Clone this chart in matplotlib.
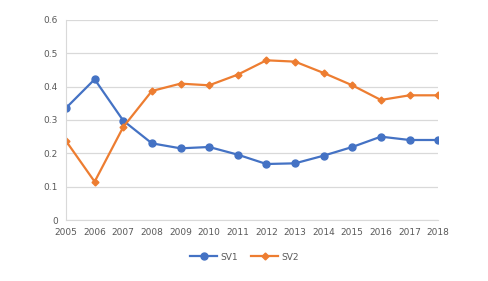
import numpy as np
import matplotlib.pyplot as plt

plt.rcParams['font.family'] = ['DejaVu Sans']

# 数据
years = list(range(2005, 2019))
sv1 = [0.336, 0.422, 0.298, 0.230, 0.215, 0.219, 0.196, 0.168, 0.170, 0.193, 0.219, 0.250, 0.240, 0.240]
sv2 = [0.237, 0.115, 0.279, 0.387, 0.409, 0.404, 0.436, 0.479, 0.475, 0.441, 0.404, 0.360, 0.374, 0.374]

fig = plt.figure(figsize=(4.89, 2.81), dpi=100)
ax = fig.add_axes([0.135, 0.217, 0.761, 0.712])

ax.plot(years, sv1, color='#4472C4', marker='o', markersize=5, linewidth=1.6, label='SV1')
ax.plot(years, sv2, color='#ED7D31', marker='D', markersize=3.5, linewidth=1.6, label='SV2')

ax.set_xlim(2005, 2018)
ax.set_ylim(0, 0.6)
ax.set_xticks(years)
ax.set_yticks([0, 0.1, 0.2, 0.3, 0.4, 0.5, 0.6])
ax.set_yticklabels(['0', '0.1', '0.2', '0.3', '0.4', '0.5', '0.6'])
ax.tick_params(axis='both', length=0, labelsize=6.5, colors='#595959', pad=6)
ax.grid(True, axis='y', color='#D9D9D9', linewidth=0.9)
ax.set_axisbelow(True)
for s in ['top', 'right']:
    ax.spines[s].set_visible(False)
ax.spines['left'].set_color('#D9D9D9')
ax.spines['bottom'].set_color('#D9D9D9')

fig.legend(loc='center', bbox_to_anchor=(0.5, 0.085), ncol=2, frameon=False,
           fontsize=6.5, labelcolor='#595959', handlelength=3, columnspacing=1.5, handletextpad=0.3)

plt.savefig('out.png', dpi=100)
